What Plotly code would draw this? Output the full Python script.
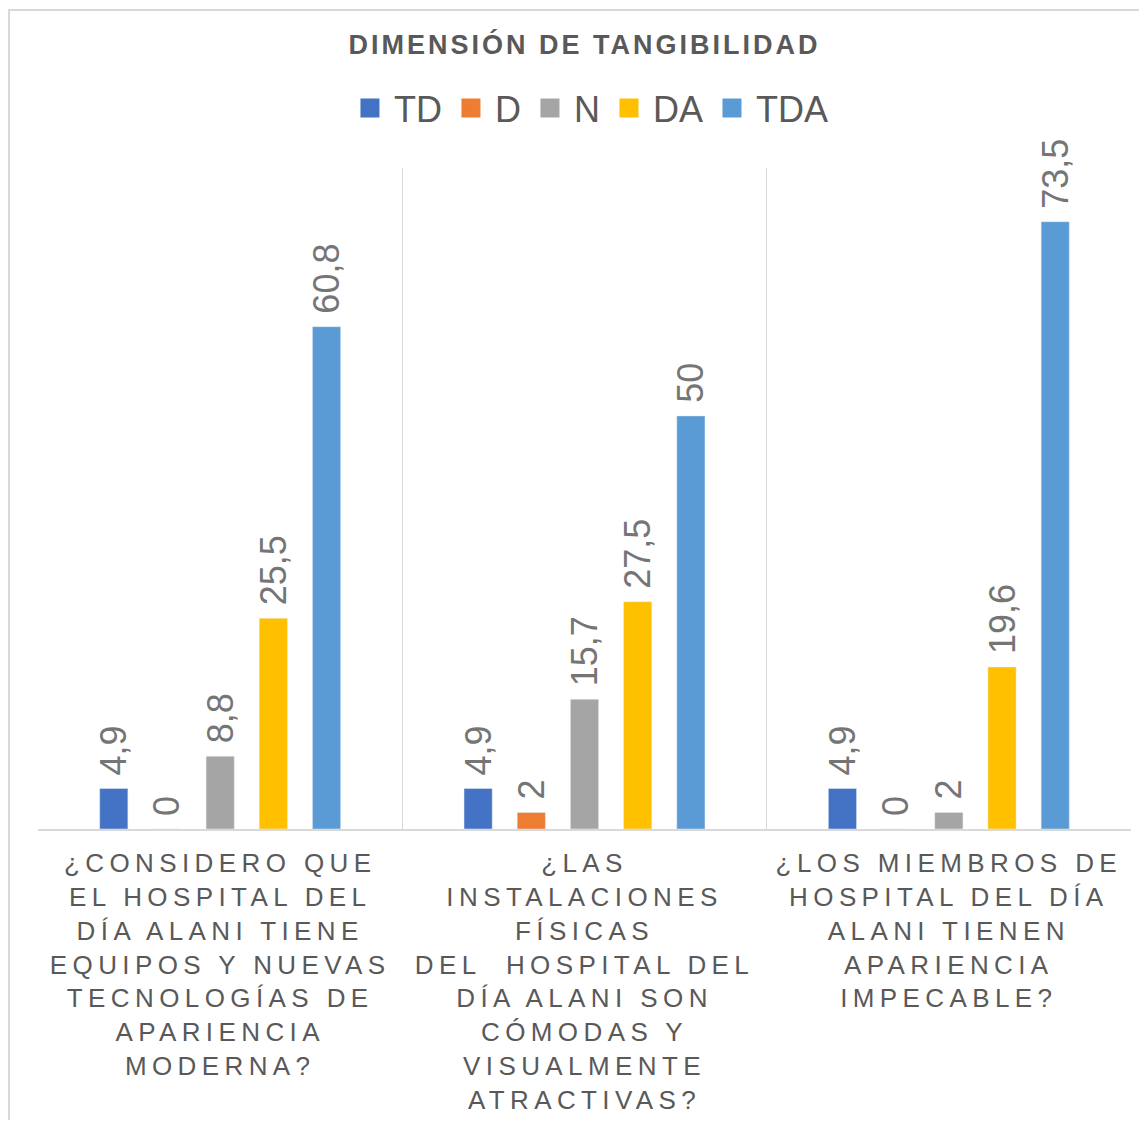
import plotly.graph_objects as go

# Categories (questions) and tick text shown under each group
categories = ["Q1", "Q2", "Q3"]
tick_labels = [
    "¿CONSIDERO QUE<br>EL HOSPITAL DEL<br>DÍA ALANI TIENE<br>EQUIPOS Y NUEVAS<br>TECNOLOGÍAS DE<br>APARIENCIA<br>MODERNA?",
    "¿LAS<br>INSTALACIONES<br>FÍSICAS<br>DEL  HOSPITAL DEL<br>DÍA ALANI SON<br>CÓMODAS Y<br>VISUALMENTE<br>ATRACTIVAS?",
    "¿LOS MIEMBROS DE<br>HOSPITAL DEL DÍA<br>ALANI TIENEN<br>APARIENCIA<br>IMPECABLE?",
]

series_names = ["TD", "D", "N", "DA", "TDA"]
td = [4.9, 4.9, 4.9]
d = [0, 2, 0]
n = [8.8, 15.7, 2]
da = [25.5, 27.5, 19.6]
tda = [60.8, 50, 73.5]
series_values = [td, d, n, da, tda]
colors = ["#4472C4", "#ED7D31", "#A5A5A5", "#FFC000", "#5B9BD5"]

TEXT = "#595959"
FONT = "Liberation Sans, Arial, sans-serif"

# page body has an 8px margin, so the figure is a bit smaller than the window
W, H = 1131, 1112
L, R, T, B = 30, 8, 160, 291
PW, PH = W - L - R, H - T - B


def spaced(s, px):
    # svg letter-spacing through plotly's styled span
    return f'<span style="letter-spacing:{px}px">{s}</span>'


def fmt(v):
    # nbsp keeps a little room between bar end and label
    return "\u00a0" + f"{v:g}".replace(".", ",")


fig = go.Figure()
for name, vals, col in zip(series_names, series_values, colors):
    fig.add_trace(go.Bar(
        x=categories, y=vals, name=name, marker_color=col,
        text=[fmt(v) for v in vals], textposition="outside", textangle=-90,
        textfont=dict(size=36, color="#757575", family=FONT),
        constraintext="none", cliponaxis=False, showlegend=False,
    ))
    # legend-only entry with a larger square swatch
    fig.add_trace(go.Scatter(
        x=[None], y=[None], mode="markers", name=name,
        marker=dict(symbol="square", size=16, color=col, line=dict(width=3, color=col)),
    ))

fig.update_layout(
    width=W, height=H,
    paper_bgcolor="white", plot_bgcolor="white",
    margin=dict(l=L, r=R, t=T, b=B, autoexpand=False),
    barmode="group", bargap=0.27, bargroupgap=0.47,
    font=dict(family=FONT, color=TEXT),
    title=dict(
        text=spaced("<b>DIMENSIÓN DE TANGIBILIDAD</b>", 3),
        xref="paper", x=0.5, xanchor="center", y=1 - 37 / H, yanchor="middle",
        font=dict(size=27, color=TEXT, family=FONT),
    ),
    legend=dict(
        orientation="h", x=0.505, xanchor="center", y=(PH + T - 100) / PH, yanchor="middle",
        font=dict(size=36, color=TEXT, family=FONT), bgcolor="rgba(0,0,0,0)",
        itemwidth=38,
    ),
    xaxis=dict(
        type="category", tickmode="array", tickvals=categories,
        ticktext=[spaced(t, 5.4) for t in tick_labels],
        tickson="boundaries", ticks="", showgrid=True, gridcolor="#D9D9D9", gridwidth=1,
        showline=True, linecolor="#D9D9D9", linewidth=2,
        tickfont=dict(size=26, color=TEXT, family=FONT), ticklabelstandoff=10,
        fixedrange=True,
    ),
    yaxis=dict(
        range=[0, 80], showticklabels=False, showgrid=False, zeroline=False,
        showline=False, ticks="",
    ),
    shapes=[dict(
        type="rect", xref="paper", yref="paper",
        x0=(1 - L) / PW, x1=1.05, y0=-0.6, y1=(PH + T - 2) / PH,
        line=dict(color="#D9D9D9", width=2), fillcolor="rgba(0,0,0,0)", layer="below",
    )],
)

fig.write_html("out.html")
